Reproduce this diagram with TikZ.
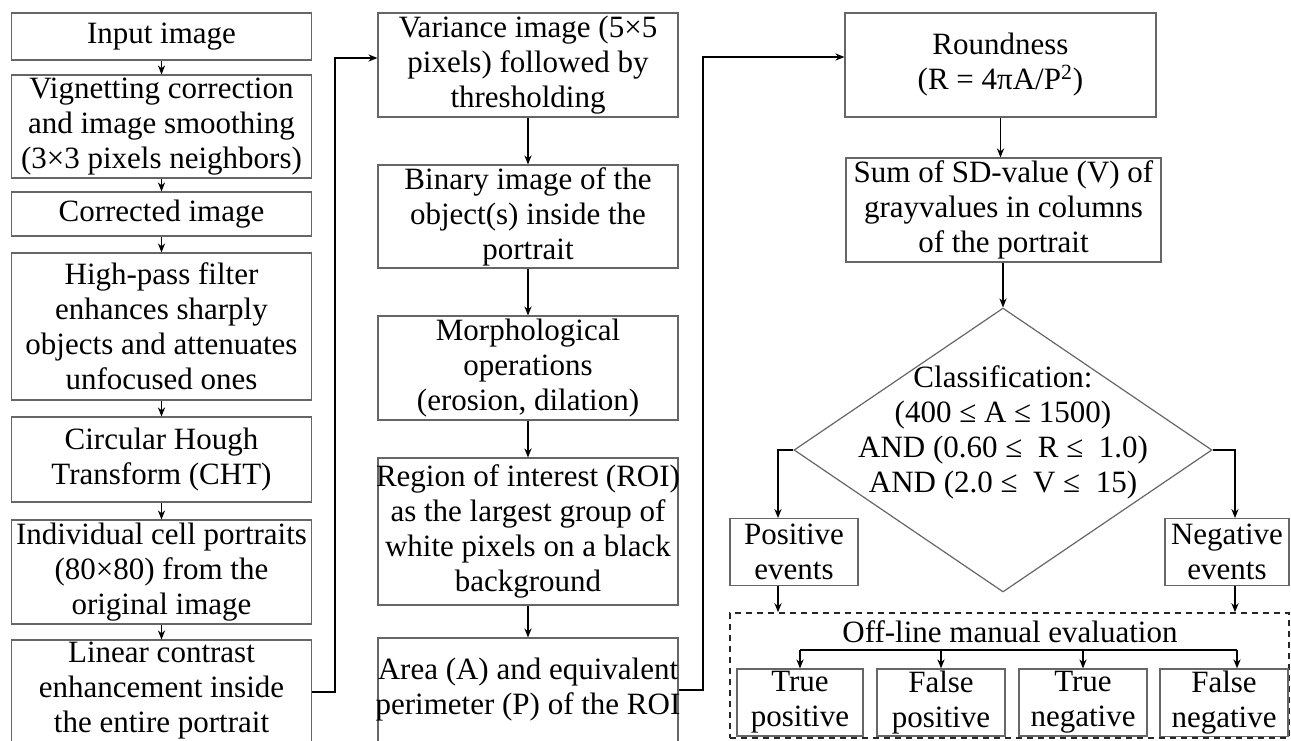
\documentclass[tikz,border=0pt]{standalone}
\usepackage{fontspec}
\setmainfont{Liberation Serif}
\usetikzlibrary{shapes.geometric,arrows.meta}

\tikzstyle{block} = [draw=black!60, rectangle, line width=0.6pt,
    align=center, inner sep=1pt, minimum width=150pt]
\tikzstyle{decision} = [draw=black!60, diamond, line width=0.6pt,
    inner sep=0pt, minimum width=209pt, minimum height=142pt]
\tikzstyle{result} = [draw=black!60, rectangle, line width=0.6pt,
    align=center, inner sep=1pt, minimum height=33.5pt]
\tikzstyle{frame} = [draw=black!85, rectangle, dash pattern=on 3pt off 2.5pt,
    line width=0.8pt, minimum width=279.5pt, minimum height=62.5pt]

\begin{document}
\begin{tikzpicture}[x=0.5pt, y=-0.5pt, line width=0.7pt,
    >={Stealth[length=4.5pt,width=3.6pt]},
    font=\fontsize{15.5}{17.5}\selectfont]
    \clip (0,0) rectangle (1291,740);

    % first column
    \node [block, minimum height=23.5pt] at (161.5,36.5) (inp) {Input image};
    \node [block, minimum height=51.5pt] at (161.5,126.5) (vig) {Vignetting correction\\and image smoothing\\(3×3 pixels neighbors)};
    \node [block, minimum height=22pt] at (161.5,214) (cor) {Corrected image};
    \node [block, minimum height=73.5pt] at (161.5,326.5) (hpf) {High-pass filter\\enhances sharply\\objects and attenuates\\unfocused ones};
    \node [block, minimum height=42.5pt] at (161.5,459.5) (cht) {Circular Hough\\Transform (CHT)};
    \node [block, minimum height=52pt] at (161.5,572) (ind) {\makebox[146pt][c]{Individual cell portraits}\\(80×80) from the\\original image};
    \node [block, minimum height=51pt] at (161.5,691) (lin) {Linear contrast\\enhancement inside\\the entire portrait};

    % second column
    \node [block, minimum height=52pt] at (528,65) (var) {Variance image (5×5\\pixels) followed by\\thresholding};
    \node [block, minimum height=51.5pt] at (528,216.5) (bin) {Binary image of the\\object(s) inside the\\portrait};
    \node [block, minimum height=52pt] at (528,368) (mor) {Morphological\\operations\\(erosion, dilation)};
    \node [block, minimum height=73.5pt] at (528,531.5) (roi) {\makebox[146pt][c]{Region of interest (ROI)}\\as the largest group of\\white pixels on a black\\background};
    \node [block, minimum height=52pt] at (528,690) (area) {\makebox[146pt][c]{Area (A) and equivalent}\\\makebox[146pt][c]{perimeter (P) of the ROI}};

    % third column
    \node [block, minimum width=155.5pt, minimum height=52pt] at (1000.5,65) (rnd) {Roundness\\(R = 4πA/P\textsuperscript{2})};
    \node [block, minimum width=157.5pt, minimum height=52pt] at (1003.5,210) (sum) {Sum of SD-value (V) of\\grayvalues in columns\\of the portrait};
    \node [decision] at (1003,450) (cls) {};
    \node [align=center, inner sep=0pt] at (1003,432.5) (clstxt) {Classification:\\(400 ≤ A ≤ 1500)\\AND (0.60 ≤\ \ R ≤\ \ 1.0)\\AND (2.0 ≤\ \ V ≤\ \ 15)};
    \node [result, minimum width=64pt] at (794,552) (pos) {Positive\\events};
    \node [result, minimum width=62pt] at (1227,552) (neg) {Negative\\events};

    % manual evaluation
    \node [frame] at (1009.5,675.5) (eval) {};
    \node [inner sep=0pt] at (1010,632) (offl) {Off-line manual evaluation};
    \node [result, minimum width=63pt] at (800,702.5) (tp) {True\\positive};
    \node [result, minimum width=64pt] at (941,702.5) (fp) {False\\positive};
    \node [result, minimum width=64pt] at (1083,702.5) (tn) {True\\negative};
    \node [result, minimum width=64pt] at (1224,702.5) (fn) {False\\negative};

    \node [shape=coordinate, name=c1a] at (335,692) {};
    \node [shape=coordinate, name=c1b] at (335,58) {};
    \node [shape=coordinate, name=c2a] at (703,690) {};
    \node [shape=coordinate, name=c2b] at (703,57) {};
    \node [shape=coordinate, name=pin] at (778,518) {};
    \node [shape=coordinate, name=nin] at (1235,518) {};
    \node [shape=coordinate, name=busl] at (800,650) {};
    \node [shape=coordinate, name=busr] at (1237,650) {};

    \draw [->] (inp) -- (vig);
    \draw [->] (vig) -- (cor);
    \draw [->] (cor) -- (hpf);
    \draw [->] (hpf) -- (cht);
    \draw [->] (cht) -- (ind);
    \draw [->] (ind) -- (lin);
    \draw [->] (lin.east |- c1a) -- (c1a) -- (c1b) -- (var.west |- c1b);

    \draw [->] (var) -- (bin);
    \draw [->] (bin) -- (mor);
    \draw [->] (mor) -- (roi);
    \draw [->] (roi) -- (area);
    \draw [->] (area.east |- c2a) -- (c2a) -- (c2b) -- (rnd.west |- c2b);

    \draw [->] (rnd.south) -- (rnd.south |- sum.north);
    \draw [->] (sum.south -| cls.north) -- (cls.north);
    \draw [->] (cls.west) -| (pin);
    \draw [->] (cls.east) -| (nin);
    \draw [->] (pos.south -| pin) -- (pin |- eval.north);
    \draw [->] (neg.south -| nin) -- (nin |- eval.north);

    \draw (busl) -- (busr);
    \draw [->] (busl) -- (busl |- tp.north);
    \draw [->] (busl -| fp.north) -- (fp.north);
    \draw [->] (busl -| tn.north) -- (tn.north);
    \draw [->] (busr) -- (busr |- fn.north);
\end{tikzpicture}
\end{document}
